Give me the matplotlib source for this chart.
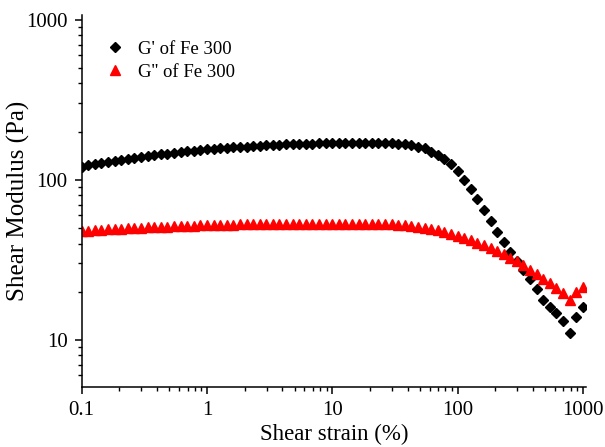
import matplotlib.pyplot as plt
from matplotlib.ticker import FixedLocator, FixedFormatter, LogLocator, NullFormatter

plt.rcParams["font.family"] = ["Liberation Serif", "DejaVu Serif"]

# shear strain (%) of each measured point
strain = [
    0.1, 0.1129, 0.1274, 0.1438, 0.1624, 0.1833, 0.2069, 0.2336, 0.2637, 0.2976,
    0.336, 0.3793, 0.4281, 0.4833, 0.5456, 0.6159, 0.6952, 0.7848, 0.8859,
    1.0, 1.129, 1.274, 1.438, 1.624, 1.833, 2.069, 2.336, 2.637, 2.976,
    3.36, 3.793, 4.281, 4.833, 5.456, 6.159, 6.952, 7.848, 8.859,
    10.0, 11.29, 12.74, 14.38, 16.24, 18.33, 20.69, 23.36, 26.37, 29.76,
    33.6, 37.93, 42.81, 48.33, 54.56, 61.59, 69.52, 78.48, 88.59,
    100.0, 112.9, 127.4, 143.8, 162.4, 183.3, 206.9, 233.6, 263.7, 297.6,
    336.0, 379.3, 428.1, 483.3, 545.6, 615.9, 695.2, 784.8, 885.9, 1000.0,
]

# storage modulus G' (Pa)
g_storage = [
    121, 123, 125, 127, 129, 131, 133, 135, 137, 139,
    141, 143, 144.5, 146, 147.5, 149, 150.5, 152, 153.5,
    155, 156, 157, 158.5, 159.5, 160.5, 161.5, 162.5, 163.5, 164.5,
    165, 166, 166.5, 167, 167.5, 168, 168.5, 169, 169.5,
    170, 170, 170.5, 170.5, 170.5, 170.5, 170, 170, 169.5, 169,
    168, 166.5, 164, 161, 157, 150, 143, 135, 125,
    114, 100, 88, 76, 65, 55.5, 47.5, 41, 35.5, 31,
    27.4, 24, 20.8, 17.8, 16.1, 14.8, 13.2, 11.1, 13.9, 16.0,
]

# loss modulus G'' (Pa)
g_loss = [
    48, 48.2, 48.5, 48.8, 49, 49.3, 49.5, 49.8, 50, 50.2,
    50.4, 50.6, 50.8, 51, 51.2, 51.4, 51.6, 51.8, 52,
    52.1, 52.2, 52.3, 52.4, 52.5, 52.6, 52.7, 52.8, 52.8, 52.9,
    53, 53, 53, 53.1, 53.1, 53.1, 53.1, 53.1, 53.1,
    53.1, 53.1, 53.1, 53.1, 53, 53, 53, 52.9, 52.8, 52.7,
    52.4, 52.1, 51.6, 51, 50.3, 49.4, 48.4, 47.3, 46.1,
    44.8, 43.4, 42, 40.5, 39, 37.4, 35.8, 34.2, 32.6, 30.9,
    29.2, 27.5, 25.8, 24.1, 22.5, 21, 19.6, 17.8, 20, 21.5,
]

x_ticks = [0.1, 1, 10, 100, 1000]
x_tick_labels = ["0.1", "1", "10", "100", "1000"]
y_ticks = [10, 100, 1000]
y_tick_labels = ["10", "100", "1000"]

fig = plt.figure(figsize=(6.05, 4.47), dpi=100)
ax = fig.add_axes([0.135, 0.135, 0.834, 0.832])

ax.plot(strain, g_storage, linestyle="none", marker="D", markersize=5.0,
        color="black", label="G' of Fe 300")
ax.plot(strain, g_loss, linestyle="none", marker="^", markersize=6.8,
        color="#ff0000", label="G'' of Fe 300")

ax.set_xscale("log")
ax.set_yscale("log")
ax.set_xlim(0.1, 1065)
ax.set_ylim(5.1, 1075)

ax.xaxis.set_major_locator(FixedLocator(x_ticks))
ax.xaxis.set_major_formatter(FixedFormatter(x_tick_labels))
ax.yaxis.set_major_locator(FixedLocator(y_ticks))
ax.yaxis.set_major_formatter(FixedFormatter(y_tick_labels))
for axis in (ax.xaxis, ax.yaxis):
    axis.set_minor_locator(LogLocator(base=10, subs=range(2, 10)))
    axis.set_minor_formatter(NullFormatter())

ax.tick_params(which="major", direction="out", length=5, width=1.1, labelsize=15, pad=5)
ax.tick_params(which="minor", direction="out", length=3, width=1.0)

for side in ("top", "right"):
    ax.spines[side].set_visible(False)
for side in ("left", "bottom"):
    ax.spines[side].set_linewidth(1.1)

ax.set_xlabel("Shear strain (%)", fontsize=16.5, labelpad=3)
ax.set_ylabel("Shear Modulus (Pa)", fontsize=18)
ax.yaxis.set_label_coords(-0.102, 0.5)

ax.legend(loc="upper left", bbox_to_anchor=(0.015, 0.975), frameon=False,
          fontsize=13.5, handletextpad=0.7, labelspacing=0.3, handlelength=1.0)

fig.savefig("out.png", dpi=100, facecolor="white")
